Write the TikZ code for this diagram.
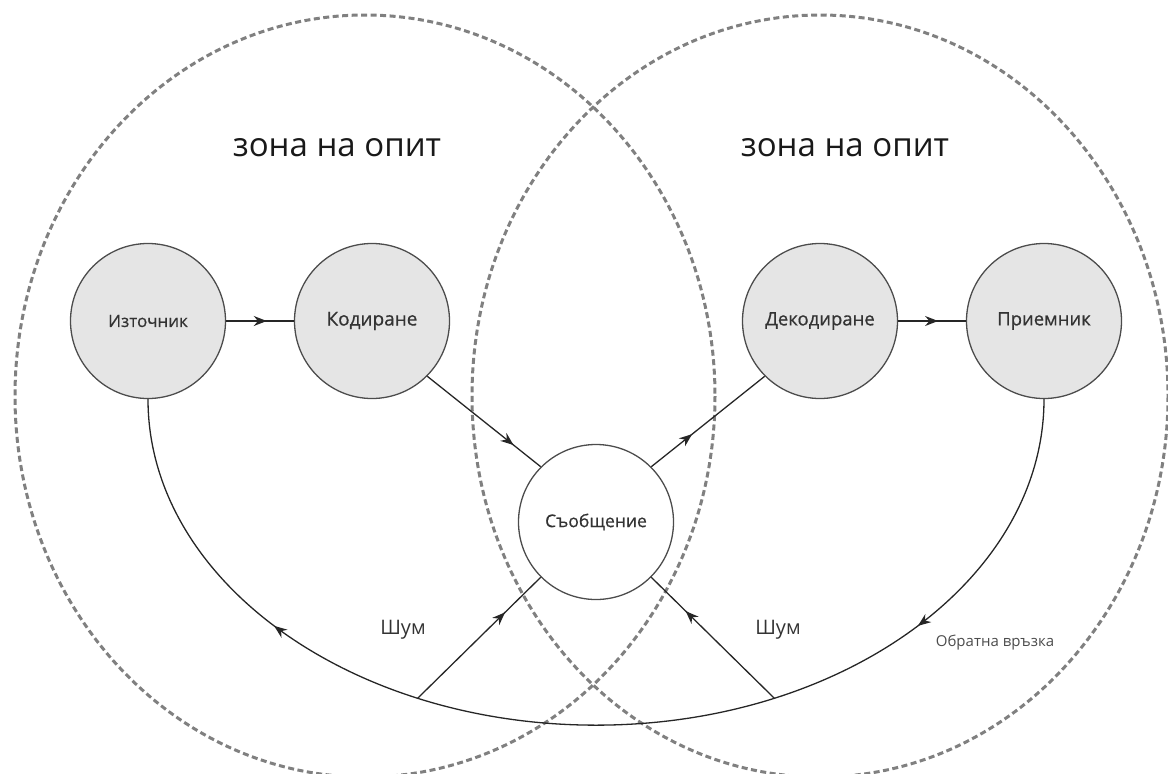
\documentclass[tikz,border=0pt]{standalone}
\usepackage{fontspec}
\setmainfont{Open Sans}
\newfontfamily\stagefont[FakeBold=0.6]{Open Sans}
\usetikzlibrary{arrows.meta,decorations.markings}
\tikzstyle{zone}=[draw=black!50, line width=3pt, dash pattern=on 6pt off 3.5pt]
\tikzstyle{stage}=[circle, fill=black!10, draw=black!70, line width=1.3pt, minimum size=155pt, inner sep=0pt, text=black!80]
\tikzstyle{msgV}=[stage, fill=white]
\tikzstyle{conn}=[draw=black!85, line width=1.3pt]
\tikzstyle{zoneTxt}=[text=black!90, font=\fontsize{33}{36}\selectfont]
\tikzstyle{noiseTxt}=[text=black!80, font=\fontsize{20}{22}\selectfont]
\tikzset{
  midarr/.style={postaction={decorate}, decoration={markings,
    mark=at position #1 with {\arrow{Stealth[length=13pt,width=10pt]}}}},
  fbline/.style={postaction={decorate}, decoration={markings,
    mark=at position 0.22 with {\arrow{Stealth[length=13pt,width=10pt]}},
    mark=at position 0.352 with {\coordinate (noiseR);},
    mark=at position 0.648 with {\coordinate (noiseL);},
    mark=at position 0.78 with {\arrow{Stealth[length=13pt,width=10pt]}}}}
}

\begin{document}
\begin{tikzpicture}[x=1pt, y=-1pt]
      \useasboundingbox (0,0) rectangle (1168,774);
      % zones of experience
      \draw[zone] (365,396) ellipse [x radius=350, y radius=381];
      \draw[zone] (820,396) ellipse [x radius=348, y radius=381];
      \node(zoneL) [zoneTxt] at (337,148) {зона на опит};
      \node(zoneR) [zoneTxt] at (845,148) {зона на опит};
      % stages
      \node(ist) [stage, font=\stagefont\fontsize{17}{19}\selectfont] at (148,321) {Източник};
      \node(kod) [stage, font=\stagefont\fontsize{19}{21}\selectfont] at (372,321) {Кодиране};
      \node(dek) [stage, font=\stagefont\fontsize{18.5}{20}\selectfont] at (820,321) {Декодиране};
      \node(prm) [stage, font=\stagefont\fontsize{18.5}{20}\selectfont] at (1044,321) {Приемник};
      \node(msg) [msgV, font=\stagefont\fontsize{17.5}{19}\selectfont] at (596,522) {Съобщение};
      \draw[conn, midarr=0.6] (ist) -- (kod);
      \draw[conn, midarr=0.76] (kod.-45) -- (msg.135);
      \draw[conn, midarr=0.36] (msg.45) -- (dek.-135);
      \draw[conn, midarr=0.59] (dek) -- (prm);
      % feedback
      \draw[conn, fbline] (prm.south) arc[start angle=0, end angle=180, x radius=448, y radius=326];
      \node(fb) [text=black!70, font=\fontsize{15}{17}\selectfont] at (995,643) {Обратна връзка};
      % noise
      \draw[conn, midarr=0.71] (noiseL) -- (msg.-135);
      \draw[conn, midarr=0.72] (noiseR) -- (msg.-45);
      \node(shumL) [noiseTxt] at (403,630) {Шум};
      \node(shumR) [noiseTxt] at (778,630) {Шум};
\end{tikzpicture}
\end{document}
